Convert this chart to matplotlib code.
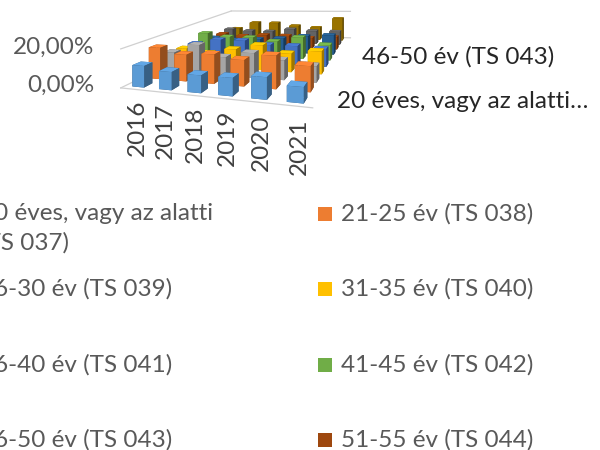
import numpy as np
import matplotlib
matplotlib.use("Agg")
import matplotlib.pyplot as plt
from matplotlib.patches import Rectangle
from matplotlib.lines import Line2D
from matplotlib.colors import to_rgb

years = ["2016", "2017", "2018", "2019", "2020", "2021"]
series_names = ["20 éves, vagy az alatti\n(TS 037)", "21-25 év (TS 038)", "26-30 év (TS 039)",
                "31-35 év (TS 040)", "36-40 év (TS 041)", "41-45 év (TS 042)",
                "46-50 év (TS 043)", "51-55 év (TS 044)", "56-60 év (TS 045)", "61 év felett (TS 046)"]
colors = ["#5B9BD5", "#ED7D31", "#A5A5A5", "#FFC000", "#4472C4",
          "#70AD47", "#255E91", "#9E480E", "#636363", "#997300"]
s20 = [11, 9, 8.5, 8.5, 10, 7]
s21 = [17, 14, 15, 13, 16, 12]
s26 = [11, 16, 10, 13, 10, 8]
s31 = [10, 8, 11, 14, 10, 12]
s36 = [10, 13, 13, 11, 11, 10]
s41 = [14, 12, 12, 10, 13, 9]
s46 = [8, 7, 8, 9, 11, 12]
s51 = [8, 7, 8, 8, 7, 8]
s56 = [9, 8, 8, 10, 9, 9]
s61 = [7, 12, 12, 10, 9, 16]
values = [s20, s21, s26, s31, s36, s41, s46, s51, s56, s61]
depth_labels = {0: "20 éves, vagy az alatti…", 6: "46-50 év (TS 043)"}
ytick_labels = ["0,00%", "20,00%"]
ytick_values = [0, 20]

W, H = 600, 450
FS = 17.5
plt.rcParams["font.family"] = ["Lato", "DejaVu Sans"]
fig = plt.figure(figsize=(6, 4.5), dpi=100, facecolor="white")
ax = fig.add_axes([0, 0, 1, 1], projection="3d")
ax.set_axis_off()
ax.patch.set_visible(False)
ax.computed_zorder = False

nx, ny = len(years), len(series_names)
# Perspective of the floor, fitted to where the bar bases lie on the canvas (pixels, y down)
front_x = [141.7, 169, 199, 229, 262, 296]
front_y = [83.3, 86.7, 90, 94, 97.3, 100.7]
back_x = [236.7, 255, 275, 296, 316, 337.3]
back_y = [36.7, 37.3, 37.7, 38, 38.3, 38.3]
A = []
b = []
for i in range(nx):
    for v, xs, ys in [(0.05, front_x, front_y), (0.95, back_x, back_y)]:
        u = (i + 0.5) / nx
        px, py = xs[i], ys[i]
        A.append([u, v, 1, 0, 0, 0, -u * px, -v * px]); b.append(px)
        A.append([0, 0, 0, u, v, 1, -u * py, -v * py]); b.append(py)
h = np.linalg.lstsq(np.array(A, float), np.array(b, float), rcond=None)[0]
w_row = np.array([h[6] / nx, h[7] / ny, 0.0, 1.0])
P = np.array([
    [h[0] / nx, h[1] / ny, 0.0, h[2]],
    [h[3] / nx, h[4] / ny, -1.95, h[5]],
    [-0.5 / nx, 1.0 / ny, -0.001, 0.0],
    w_row,
])


def custom_proj():
    # pixels (y down) -> display -> the 2D coordinates of the axes
    flip = np.array([[1, 0, 0, 0], [0, -1, 0, H], [0, 0, 1, 0], [0, 0, 0, 1]], float)
    aff = ax.transData.inverted().get_matrix()
    toax = np.array([[aff[0, 0], aff[0, 1], 0, aff[0, 2]],
                     [aff[1, 0], aff[1, 1], 0, aff[1, 2]],
                     [0, 0, 1, 0], [0, 0, 0, 1]], float)
    return toax @ flip @ P


ax.get_proj = custom_proj


def to_fig(x, y, z):
    p = P @ np.array([x, y, z, 1.0])
    return p[0] / p[3] / W, 1 - p[1] / p[3] / H


# Walls and floor lines, behind the axes with the bars
line_c = "#D0D0D0"
for (xa, ya, xb, yb, lev) in [(0, 0, 0, ny, ytick_values[1]), (0, ny, nx, ny, ytick_values[1]),
                              (0, 0, 0, ny, 0), (0, ny, nx, ny, 0), (0, 0, nx, 0, 0)]:
    p0, p1 = to_fig(xa, ya, lev), to_fig(xb, yb, lev)
    fig.add_artist(Line2D([p0[0], p1[0]], [p0[1], p1[1]], transform=fig.transFigure,
                          color=line_c, lw=0.9, zorder=-1))


def shade(c, f):
    return tuple(min(1, x * f) for x in to_rgb(c))


bw, bd = 0.45, 0.5
z = 2
for j in range(ny - 1, -1, -1):
    for i in range(nx):
        c = colors[j]
        faces = [shade(c, .6), shade(c, 1.08), c, shade(c, .6), shade(c, .6), shade(c, .62)]
        ax.bar3d(i + (1 - bw) / 2, j + (1 - bd) / 2, 0, bw, bd, values[j][i],
                 color=faces, shade=False, zorder=z, linewidth=0)
        z += 1

# Year labels under the front edge
for i, y in enumerate(years):
    ax.text(i + 0.65, 0, -5, y, zdir="z", ha="center", va="top",
            fontsize=FS, color="#404040", zorder=200)


def fx(x):
    return x / W


def fy(y):
    return 1 - y / H


for lab, yp in zip(ytick_labels, [85, 47]):
    fig.text(fx(94), fy(yp), lab, ha="right", va="center", fontsize=FS, color="#595959")
for k, yp, xp in [(0, 102, 337), (6, 57, 362)]:
    fig.text(fx(xp), fy(yp), depth_labels[k], ha="left", va="center", fontsize=FS, color="#262626")

# Legend, two columns, left one running past the canvas edge
rows = [214, 289, 365, 440]
for n, name in enumerate(series_names[:8]):
    col = n % 2
    yc = rows[n // 2]
    x_text = -20 if col == 0 else 341
    fig.patches.append(Rectangle((fx(x_text - 23), fy(yc + 7)), 14 / W, 14 / H,
                                 transform=fig.transFigure, facecolor=colors[n], edgecolor="none"))
    first = name.split("\n")
    for m, line in enumerate(first):
        fig.text(fx(x_text), fy(yc + m * 29), line, ha="left", va="center",
                 fontsize=FS, color="#595959")

fig.savefig("out.png", dpi=100)
